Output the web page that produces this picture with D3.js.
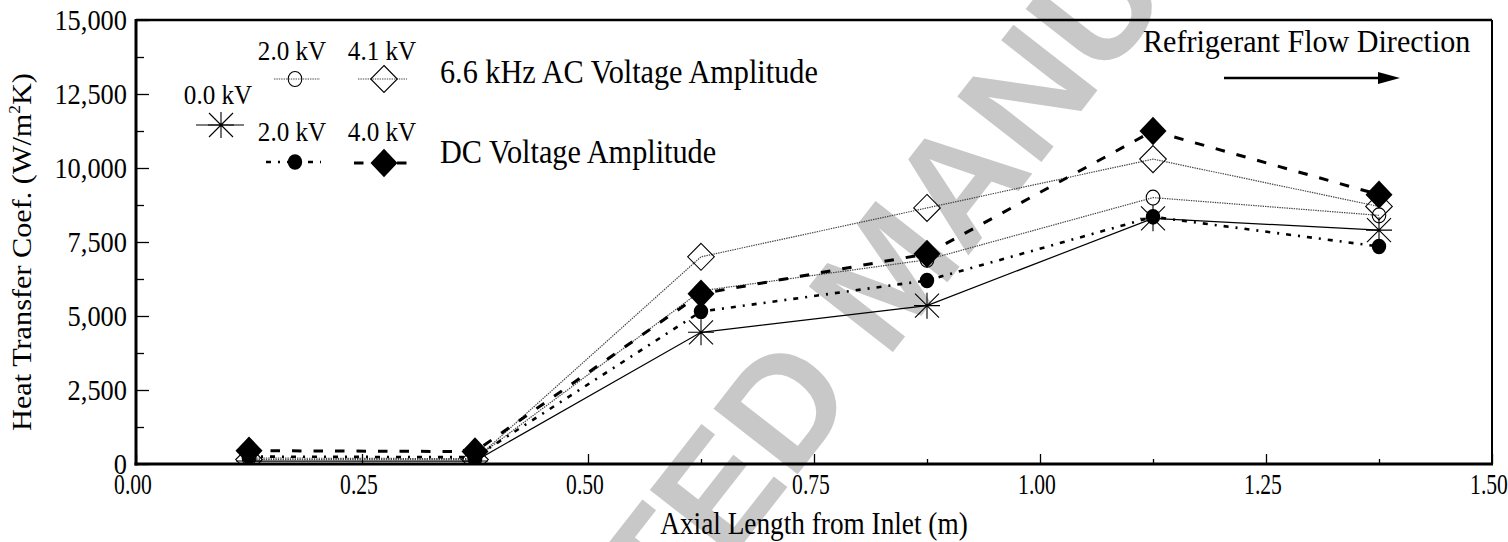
<!DOCTYPE html>
<html>
<head>
<meta charset="utf-8">
<script src="https://cdn.jsdelivr.net/npm/d3@7"></script>
<style>
  html, body { margin: 0; padding: 0; background: #fff; }
  svg { display: block; }
  text { font-family: "Liberation Serif", "Times New Roman", serif; fill: #000; }
</style>
</head>
<body>
<svg id="chart" width="1508" height="542"></svg>
<script>
// Axial positions of the measurement stations (m)
const positions = [0.125, 0.375, 0.625, 0.875, 1.125, 1.375];

// Heat transfer coefficient (W/m²K) per station
const zeroKV = [100, 100, 4450, 5350, 8300, 7900];
const ac20kV = [200, 180, 5850, 6900, 9000, 8400];
const ac41kV = [150, 150, 7000, 8650, 10300, 8700];
const dc20kV = [250, 230, 5150, 6200, 8350, 7350];
const dc40kV = [450, 420, 5750, 7100, 11250, 9100];

// Legend labels for the five runs
const seriesLabels = ["0.0 kV", "2.0 kV", "4.1 kV", "2.0 kV", "4.0 kV"];

const yMajorTicks = [0, 2500, 5000, 7500, 10000, 12500, 15000];
const yMinorTicks = [1250, 3750, 6250, 8750, 11250, 13750];
const xMajorTicks = [0, 0.25, 0.5, 0.75, 1.0, 1.25, 1.5];
const xMinorTicks = [0.125, 0.375, 0.625, 0.875, 1.125, 1.375];

const svg = d3.select("#chart");
const m = { left: 136, right: 1492, top: 20, bottom: 464 };

const x = d3.scaleLinear().domain([0, 1.5]).range([m.left, m.right]);
const y = d3.scaleLinear().domain([0, 15000]).range([m.bottom, m.top]);

// text helper: condensed serif glyphs
function txt(g, px, py, s, size, sx, anchor) {
  return g.append("text")
    .attr("transform", `translate(${px},${py}) scale(${sx},1)`)
    .attr("font-size", size)
    .attr("text-anchor", anchor || "start")
    .text(s);
}

// ---- watermark (underneath everything) ----
svg.append("text")
  .attr("transform", "translate(929,306) rotate(-52)")
  .attr("text-anchor", "middle")
  .style("font-family", "'Liberation Sans', Arial, sans-serif")
  .style("font-weight", "bold")
  .attr("font-size", 155)
  .style("fill", "#c8c8c8")
  .text("ACCEPTED MANUSCRIPT");

// clip region for the data
svg.append("defs").append("clipPath").attr("id", "plot-clip")
  .append("rect").attr("x", m.left).attr("y", m.top - 2)
  .attr("width", m.right - m.left).attr("height", m.bottom - m.top + 2);

// ---- markers ----
const markers = {
  asterisk(g, cx, cy) {
    const r = 13, d = 12;
    g.append("path")
      .attr("d", `M${cx},${cy - r}L${cx},${cy + r}M${cx - d},${cy - d}L${cx + d},${cy + d}M${cx - d},${cy + d}L${cx + d},${cy - d}M${cx - r},${cy}L${cx + r},${cy}`)
      .attr("stroke", "#000").attr("stroke-width", 1.1).attr("fill", "none");
  },
  openCircle(g, cx, cy) {
    g.append("ellipse").attr("cx", cx).attr("cy", cy).attr("rx", 6.8).attr("ry", 7.5)
      .attr("fill", "none").attr("stroke", "#000").attr("stroke-width", 1.1);
  },
  openDiamond(g, cx, cy) {
    g.append("path").attr("d", `M${cx},${cy - 13.5}L${cx + 13.3},${cy}L${cx},${cy + 13.5}L${cx - 13.3},${cy}Z`)
      .attr("fill", "none").attr("stroke", "#000").attr("stroke-width", 1.1);
  },
  filledCircle(g, cx, cy) {
    g.append("ellipse").attr("cx", cx).attr("cy", cy).attr("rx", 7.2).attr("ry", 7.8)
      .attr("fill", "#000");
  },
  filledDiamond(g, cx, cy) {
    g.append("path").attr("d", `M${cx},${cy - 14.2}L${cx + 13.5},${cy}L${cx},${cy + 14.2}L${cx - 13.5},${cy}Z`)
      .attr("fill", "#000");
  }
};

const series = [
  { values: zeroKV, marker: "asterisk",      dash: null,      width: 1.2, color: "#000" },
  { values: ac20kV, marker: "openCircle",    dash: "1.4,1",   width: 1.2, color: "#444" },
  { values: ac41kV, marker: "openDiamond",   dash: "1.4,1",   width: 1.2, color: "#444" },
  { values: dc20kV, marker: "filledCircle",  dash: "5,7,2,7", width: 2.6, color: "#000" },
  { values: dc40kV, marker: "filledDiamond", dash: "9.5,12",  width: 3,   color: "#000" }
];

const plot = svg.append("g").attr("clip-path", "url(#plot-clip)");
const line = d3.line().x(d => x(d[0])).y(d => y(d[1]));

series.forEach(s => {
  const pts = positions.map((p, i) => [p, s.values[i]]);
  const g = plot.append("g");
  g.append("path").datum(pts).attr("d", line)
    .attr("fill", "none").attr("stroke", s.color).attr("stroke-width", s.width)
    .attr("stroke-dasharray", s.dash);
  pts.forEach(d => markers[s.marker](g, x(d[0]), y(d[1])));
});

// ---- axes ----
const axes = svg.append("g");
axes.append("g").attr("transform", `translate(${m.left},0)`)
  .call(d3.axisLeft(y).tickValues(yMajorTicks).tickSize(-13).tickFormat(""));
axes.append("g").attr("transform", `translate(${m.left},0)`)
  .call(d3.axisLeft(y).tickValues(yMinorTicks).tickSize(-8).tickFormat(""));
axes.append("g").attr("transform", `translate(0,${m.bottom})`)
  .call(d3.axisBottom(x).tickValues(xMajorTicks).tickSize(-10).tickFormat(""));
axes.append("g").attr("transform", `translate(0,${m.bottom})`)
  .call(d3.axisBottom(x).tickValues(xMinorTicks).tickSize(-5).tickFormat(""));
axes.selectAll(".domain").remove();
axes.selectAll(".tick line").attr("stroke", "#000").attr("stroke-width", 1.3);

// frame
axes.append("line").attr("x1", m.left).attr("x2", m.right).attr("y1", m.top).attr("y2", m.top)
  .attr("stroke", "#000").attr("stroke-width", 2.5);
axes.append("line").attr("x1", m.right).attr("x2", m.right).attr("y1", m.top).attr("y2", m.bottom)
  .attr("stroke", "#000").attr("stroke-width", 2);
axes.append("line").attr("x1", m.left).attr("x2", m.left).attr("y1", m.top - 1).attr("y2", m.bottom + 1.5)
  .attr("stroke", "#000").attr("stroke-width", 3);
axes.append("line").attr("x1", m.left - 1.5).attr("x2", m.right + 1).attr("y1", m.bottom).attr("y2", m.bottom)
  .attr("stroke", "#000").attr("stroke-width", 3);

// tick labels
const labels = svg.append("g");
const fy = d3.format(",");
yMajorTicks.forEach(v => txt(labels, 127, y(v) + 10, fy(v), 30, 0.88, "end"));
const fx = d3.format(".2f");
xMajorTicks.forEach(v => txt(labels, x(v) - 3, 494, fx(v), 30, 0.72, "middle"));

// axis titles
txt(labels, x(0.75), 534, "Axial Length from Inlet (m)", 31, 0.88, "middle");
const yt = labels.append("text")
  .attr("transform", "translate(31,252) rotate(-90) scale(1.08,1)")
  .attr("font-size", 28).attr("text-anchor", "middle");
yt.append("tspan").text("Heat Transfer Coef. (W/m");
yt.append("tspan").attr("font-size", 16).attr("dy", -11).text("2");
yt.append("tspan").attr("dy", 11).text("K)");

// ---- legend ----
const leg = svg.append("g");
function legendLine(sIdx, x1, x2, cy, cx) {
  const s = series[sIdx];
  leg.append("line").attr("x1", x1).attr("x2", x2).attr("y1", cy).attr("y2", cy)
    .attr("stroke", s.color).attr("stroke-width", s.width).attr("stroke-dasharray", s.dash);
  markers[s.marker](leg, cx, cy);
}
txt(leg, 218, 104, seriesLabels[0], 27, 0.93, "middle");
legendLine(0, 196, 244, 125, 221);

txt(leg, 292, 60, seriesLabels[1], 27, 0.93, "middle");
legendLine(1, 274, 320, 79, 295);
txt(leg, 382, 60, seriesLabels[2], 27, 0.93, "middle");
legendLine(2, 358, 407, 79, 384);
txt(leg, 440, 83, "6.6 kHz AC Voltage Amplitude", 34, 0.89, "start");

txt(leg, 292, 141, seriesLabels[3], 27, 0.93, "middle");
legendLine(3, 266, 321, 162, 295);
txt(leg, 382, 141, seriesLabels[4], 27, 0.93, "middle");
legendLine(4, 354, 408, 163, 384);
txt(leg, 440, 163, "DC Voltage Amplitude", 34, 0.89, "start");

// flow direction annotation
txt(leg, 1143, 52, "Refrigerant Flow Direction", 32, 0.94, "start");
leg.append("line").attr("x1", 1224).attr("x2", 1384).attr("y1", 78).attr("y2", 78)
  .attr("stroke", "#000").attr("stroke-width", 2.5);
leg.append("path").attr("d", "M1378,72L1400,78L1378,84Z").attr("fill", "#000");
</script>
</body>
</html>
